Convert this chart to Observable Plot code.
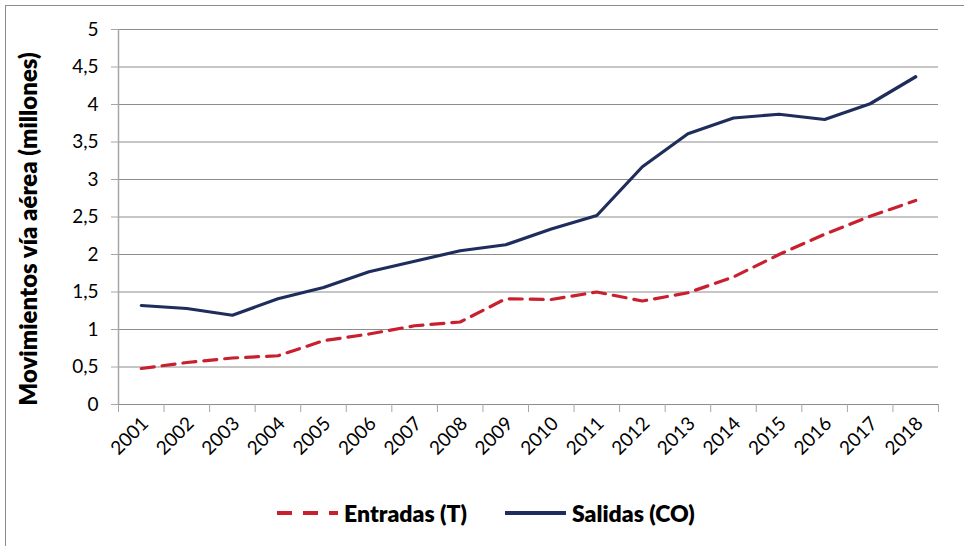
<!DOCTYPE html>
<html>
<head>
<meta charset="utf-8">
<script src="https://cdn.jsdelivr.net/npm/d3@7"></script>
<script src="https://cdn.jsdelivr.net/npm/@observablehq/plot@0.6"></script>
<style>
  html, body { margin: 0; padding: 0; background: #fff; }
  body { width: 964px; height: 546px; position: relative; overflow: hidden; font-family: Lato, "Open Sans", sans-serif; }
  #frame { position: absolute; left: 5px; top: 5px; width: 980px; height: 560px; border: 1.5px solid #8c8c8c; box-sizing: border-box; }
  #chart { position: absolute; left: 0; top: 0; }
  #legend { position: absolute; top: 498px; left: 0; width: 964px; height: 30px; font-weight: 800; font-size: 23px; color: #000; }
  .item { position: absolute; top: 0; display: flex; align-items: center; height: 30px; }
  .item svg { margin-right: 5px; }
</style>
</head>
<body>
<div id="frame"></div>
<div id="chart"></div>
<div id="legend"></div>
<script>
const years = [2001,2002,2003,2004,2005,2006,2007,2008,2009,2010,2011,2012,2013,2014,2015,2016,2017,2018];
const entradas = [0.48,0.56,0.62,0.65,0.85,0.94,1.05,1.10,1.41,1.40,1.50,1.38,1.49,1.70,2.00,2.27,2.51,2.72];
const salidas = [1.32,1.28,1.19,1.41,1.56,1.77,1.91,2.05,2.13,2.34,2.52,3.17,3.61,3.82,3.87,3.80,4.01,4.37];
const yTicks = [0,0.5,1,1.5,2,2.5,3,3.5,4,4.5,5];
const seriesNames = ["Entradas (T)", "Salidas (CO)"];
const colors = ["#c8202f", "#1f2d5c"];
const yTitle = "Movimientos vía aérea (millones)";

const boundaries = d3.range(years[0] - 0.5, years[years.length - 1] + 1, 1);
const rowsE = years.map((y, i) => ({year: y, value: entradas[i]}));
const rowsS = years.map((y, i) => ({year: y, value: salidas[i]}));
const fmt = d => String(d).replace(".", ",");

const plot = Plot.plot({
  width: 964,
  height: 470,
  marginLeft: 118,
  marginRight: 26,
  marginTop: 29,
  marginBottom: 66,
  style: {fontFamily: "Lato, 'Open Sans', sans-serif", fontSize: "17px", color: "#000", background: "transparent"},
  x: {type: "linear", domain: [years[0] - 0.5, years[years.length - 1] + 0.5]},
  y: {domain: [0, 5]},
  marks: [
    Plot.gridY(yTicks, {stroke: "#8c8c8c", strokeOpacity: 1, strokeWidth: 1}),
    Plot.ruleX([years[0] - 0.5], {stroke: "#a6a6a6", strokeWidth: 1.5}),
    Plot.axisY(yTicks, {tickSize: 7, tickPadding: 13, tickFormat: fmt, stroke: "#a6a6a6", label: null, fontSize: 19}),
    Plot.axisX(boundaries, {tickSize: 8, tickFormat: () => "", stroke: "#a6a6a6", label: null}),
    Plot.axisX(years, {tickSize: 0, tickPadding: 16, tickRotate: -45, tickFormat: d => String(d), label: null, fontSize: 19, dx: 4}),
    Plot.text([yTitle], {frameAnchor: "left", textAnchor: "middle", rotate: -90, dx: -89, dy: 12, fontWeight: 800, fontSize: 24, fill: "#000"}),
    Plot.line(rowsE, {x: "year", y: "value", stroke: colors[0], strokeWidth: 3.2, strokeDasharray: "13,8"}),
    Plot.line(rowsS, {x: "year", y: "value", stroke: colors[1], strokeWidth: 3.2})
  ]
});
document.getElementById("chart").appendChild(plot);

const legend = document.getElementById("legend");
const lefts = [277, 505];
seriesNames.forEach((name, i) => {
  const item = document.createElement("div");
  item.className = "item";
  item.style.left = lefts[i] + "px";
  const dash = i === 0 ? 'stroke-dasharray="15,11"' : '';
  item.innerHTML = `<svg width="62" height="10"><line x1="0" y1="5" x2="61" y2="5" stroke="${colors[i]}" stroke-width="4" ${dash}/></svg><span>${name}</span>`;
  legend.appendChild(item);
});
</script>
</body>
</html>
